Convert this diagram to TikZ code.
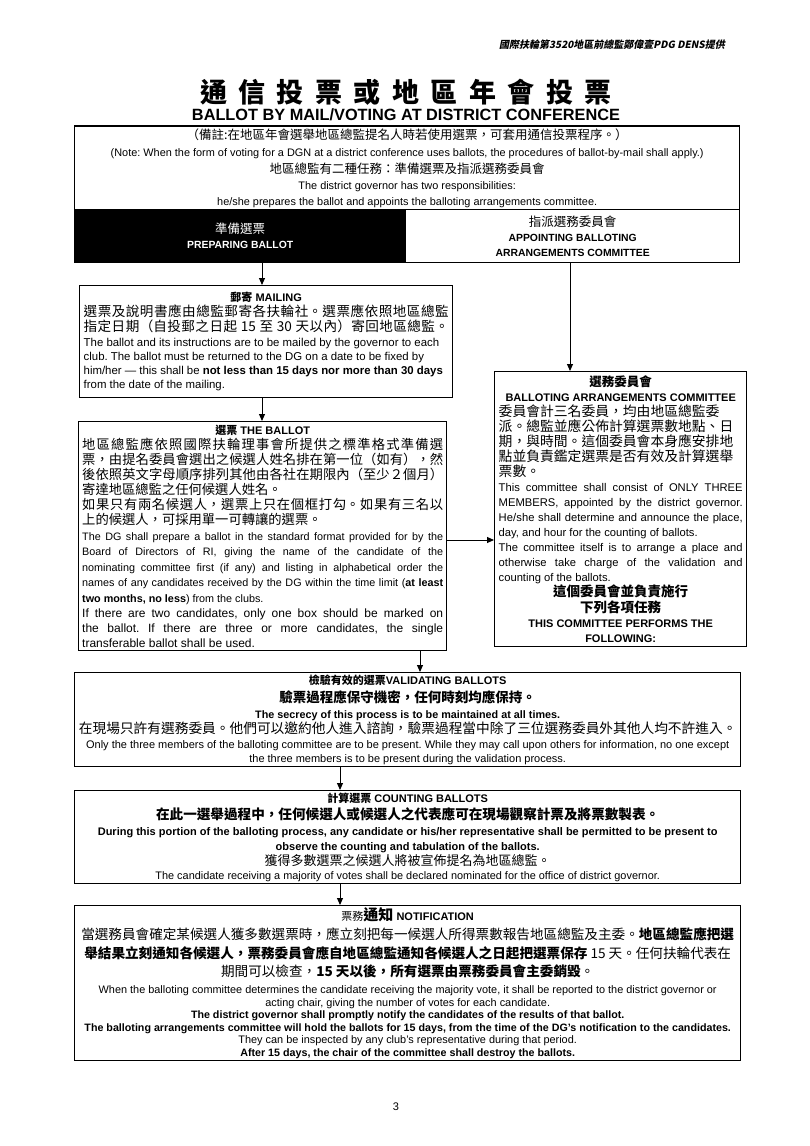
\documentclass[tikz,border=0pt]{standalone}
\usepackage{fontspec}
\setmainfont{Liberation Sans}
\newfontfamily\cjk{Noto Sans CJK TC}
\newfontfamily\cjksl{Noto Sans CJK TC}[FakeSlant=0.2]
\usetikzlibrary{arrows.meta}
\XeTeXlinebreaklocale "zh"
\XeTeXlinebreakskip=0pt plus 1pt
\parindent=0pt \parskip=0pt
\lineskiplimit=-30pt \lineskip=0pt
\frenchspacing
\newcommand{\fsz}[2]{\fontsize{#1}{#2}\selectfont}
\newcommand{\cln}[1]{{\centering\lineskiplimit=-30pt #1\par}}
\newcommand{\tsp}{\hspace{11.5pt}}
\tikzset{
  box/.style={draw, line width=1.4pt, inner sep=0pt, anchor=north west},
  txt/.style={inner sep=0pt, align=justify, anchor=center, execute at begin node=\frenchspacing},
  arr/.style={line width=1pt, -{Triangle[length=7pt,width=6pt]}},
}
\begin{document}
\begin{tikzpicture}[x=1pt,y=-1pt]
\fill[white] (0,0) rectangle (810,1146);
\path[use as bounding box] (0,0) rectangle (810,1146);

% header and titles
\node[font=\cjksl\bfseries\fsz{10}{12}] (hdr) at (612,45) {國際扶輪第3520地區前總監鄭偉壹PDG DENS提供};
\node[font=\cjk\bfseries\fsz{27}{30}] (titlezh) at (406,92) {通\tsp 信\tsp 投\tsp 票\tsp 或\tsp 地\tsp 區\tsp 年\tsp 會\tsp 投\tsp 票};
\node[font=\bfseries\fsz{16.3}{18}] (titleen) at (406,115) {BALLOT BY MAIL/VOTING AT DISTRICT CONFERENCE};

% boxes
\node[box, minimum width=665pt, minimum height=83pt] (note) at (74,126) {};
\draw[line width=2.4pt] (note.north west) -- (note.north east);
\node[box, fill=black, minimum width=331pt, minimum height=53pt] (prep) at (74,209) {};
\node[box, minimum width=334pt, minimum height=53pt] (apt) at (405,209) {};
\node[box, minimum width=373pt, minimum height=112pt] (mail) at (79,285) {};
\node[box, minimum width=368pt, minimum height=229pt] (ballot) at (78,421) {};
\node[box, minimum width=252pt, minimum height=275pt] (comm) at (494,371) {};
\node[box, minimum width=666pt, minimum height=94pt] (valid) at (74,672) {};
\node[box, minimum width=666pt, minimum height=93pt] (count) at (74,790) {};
\node[box, minimum width=666pt, minimum height=155pt] (notif) at (74,905) {};

% connectors
\coordinate (xa) at (262,0);
\coordinate (xb) at (570,0);
\coordinate (xc) at (420,0);
\coordinate (xd) at (340,0);
\coordinate (ya) at (0,540);
\draw[arr] (prep.south -| xa) -- (mail.north -| xa);
\draw[arr] (mail.south -| xa) -- (ballot.north -| xa);
\draw[arr] (apt.south -| xb) -- (comm.north -| xb);
\draw[arr] (ballot.east |- ya) -- (comm.west |- ya);
\draw[arr] (ballot.south -| xc) -- (valid.north -| xc);
\draw[arr] (valid.south -| xd) -- (count.north -| xd);
\draw[arr] (count.south -| xd) -- (notif.north -| xd);

% texts
\node[txt, text width=720pt] (noteT) at (note.center) {%
\cln{\cjk\fsz{12.5}{16}（備註:在地區年會選舉地區總監提名人時若使用選票，可套用通信投票程序。）}%
\cln{\fsz{10.9}{17}(Note: When the form of voting for a DGN at a district conference uses ballots, the procedures of ballot-by-mail shall apply.)}%
\cln{\cjk\fsz{12.5}{17}地區總監有二種任務：準備選票及指派選務委員會}%
\cln{\fsz{10.9}{16}The district governor has two responsibilities:}%
\cln{\fsz{10.9}{15.5}he/she prepares the ballot and appoints the balloting arrangements committee.}};

\node[txt, text width=320pt, text=white] (prepT) at (prep.center) {%
\cln{\cjk\fsz{12.5}{14}準備選票}%
\cln{\bfseries\fsz{10.4}{15}PREPARING BALLOT}};

\node[txt, text width=320pt] (aptT) at (apt.center) {%
\cln{\cjk\fsz{12.5}{14}指派選務委員會}%
\cln{\bfseries\fsz{10.4}{15}APPOINTING BALLOTING}%
\cln{\bfseries\fsz{10.4}{15.5}ARRANGEMENTS COMMITTEE}};

\node[txt, text width=365pt] (mailT) at (mail.center) {%
\cln{\bfseries\fsz{11}{14}{\cjk 郵寄} MAILING}%
{\cjk\fsz{13.6}{15}\parfillskip=0pt 選票及說明書應由總監郵寄各扶輪社。選票應依照地區總監\linebreak 指定日期（自投郵之日起 15 至 30 天以內）寄回地區總監。\par}%
{\fsz{11.4}{14.2}The ballot and its instructions are to be mailed by the governor to each\newline club. The ballot must be returned to the DG on a date to be fixed by\newline him/her — this shall be \textbf{not less than 15 days nor more than 30 days}\newline from the date of the mailing.\par}};

\node[txt, text width=361pt] (ballotT) at (ballot.center) {%
\cln{\bfseries\fsz{11}{14}{\cjk 選票} THE BALLOT}%
{\cjk\fsz{13.3}{15}地區總監應依照國際扶輪理事會所提供之標準格式準備選\linebreak 票，由提名委員會選出之候選人姓名排在第一位（如有），然\linebreak 後依照英文字母順序排列其他由各社在期限內（至少２個月）\linebreak 寄達地區總監之任何候選人姓名。\par}%
{\cjk\fsz{13.3}{15}如果只有兩名候選人，選票上只在個框打勾。如果有三名以\linebreak 上的候選人，可採用單一可轉讓的選票。\par}%
{\fsz{10.8}{15.5}The DG shall prepare a ballot in the standard format provided for by the\linebreak Board of Directors of RI, giving the name of the candidate of the\linebreak nominating committee first (if any) and listing in alphabetical order the\linebreak names of any candidates received by the DG within the time limit (\textbf{at least}\linebreak \textbf{two months, no less}) from the clubs.\par}%
{\fsz{12}{15}If there are two candidates, only one box should be marked on\linebreak the ballot. If there are three or more candidates, the single\linebreak transferable ballot shall be used.\par}};

\node[txt, text width=244pt] (commT) at (comm.center) {%
\cln{\cjk\bfseries\fsz{12.5}{14}選務委員會}%
\cln{\bfseries\fsz{11}{15}BALLOTING ARRANGEMENTS COMMITTEE}%
{\cjk\fsz{13.8}{15}委員會計三名委員，均由地區總監委\newline 派。總監並應公佈計算選票數地點、日\newline 期，與時間。這個委員會本身應安排地\newline 點並負責鑑定選票是否有效及計算選舉\newline 票數。\par}%
{\fsz{11.2}{15}This committee shall consist of ONLY THREE\linebreak MEMBERS, appointed by the district governor.\linebreak He/she shall determine and announce the place,\linebreak day, and hour for the counting of ballots.\par}%
{\fsz{11.2}{15}The committee itself is to arrange a place and\linebreak otherwise take charge of the validation and\linebreak counting of the ballots.\par}%
\cln{\cjk\bfseries\fsz{13.5}{15}這個委員會並負責施行}%
\cln{\cjk\bfseries\fsz{13.5}{15.5}下列各項任務}%
\cln{\bfseries\fsz{11}{15}THIS COMMITTEE PERFORMS THE}%
\cln{\bfseries\fsz{11}{15}FOLLOWING:}};

\node[txt, text width=720pt] (validT) at (valid.center) {%
\cln{\bfseries\fsz{11}{14}{\cjk 檢驗有效的選票}VALIDATING BALLOTS}%
\cln{\cjk\bfseries\fsz{13.5}{17.5}驗票過程應保守機密，任何時刻均應保持。}%
\cln{\bfseries\fsz{10.8}{16}The secrecy of this process is to be maintained at all times.}%
\cln{\cjk\fsz{13.7}{15.5}在現場只許有選務委員。他們可以邀約他人進入諮詢，驗票過程當中除了三位選務委員外其他人均不許進入。}%
\cln{\fsz{11}{15}Only the three members of the balloting committee are to be present. While they may call upon others for information, no one except}%
\cln{\fsz{11}{13.5}the three members is to be present during the validation process.}};

\node[txt, text width=720pt] (countT) at (count.center) {%
\cln{\bfseries\fsz{11}{14}{\cjk 計算選票} COUNTING BALLOTS}%
\cln{\cjk\bfseries\fsz{13.6}{17}在此一選舉過程中，任何候選人或候選人之代表應可在現場觀察計票及將票數製表。}%
\cln{\bfseries\fsz{11}{16}During this portion of the balloting process, any candidate or his/her representative shall be permitted to be present to}%
\cln{\bfseries\fsz{11}{15}observe the counting and tabulation of the ballots.}%
\cln{\cjk\fsz{13}{15}獲得多數選票之候選人將被宣佈提名為地區總監。}%
\cln{\fsz{10.9}{14}The candidate receiving a majority of votes shall be declared nominated for the office of district governor.}};

\node[txt, text width=720pt] (notifT) at (notif.center) {%
\cln{\fsz{11}{14}{\cjk 票務{\bfseries\fsz{15}{14}通知}} \bfseries NOTIFICATION}%
\cln{\cjk\fsz{13.6}{19}當選務員會確定某候選人獲多數選票時，應立刻把每一候選人所得票數報告地區總監及主委。\textbf{地區總監應把選}}%
\cln{\cjk\fsz{13.6}{18.5}\textbf{舉結果立刻通知各候選人，票務委員會應自地區總監通知各候選人之日起把選票保存} 15 天。任何扶輪代表在}%
\cln{\cjk\fsz{13.6}{18.5}期間可以檢查，\textbf{15 天以後，所有選票由票務委員會主委銷毀}。}%
\cln{\fsz{10.9}{17}When the balloting committee determines the candidate receiving the majority vote, it shall be reported to the district governor or}%
\cln{\fsz{10.9}{12.6}acting chair, giving the number of votes for each candidate.}%
\cln{\bfseries\fsz{10.7}{12.6}The district governor shall promptly notify the candidates of the results of that ballot.}%
\cln{\bfseries\fsz{10.7}{12.6}The balloting arrangements committee will hold the ballots for 15 days, from the time of the DG's notification to the candidates.}%
\cln{\fsz{10.9}{12.6}They can be inspected by any club's representative during that period.}%
\cln{\bfseries\fsz{10.7}{12.6}After 15 days, the chair of the committee shall destroy the ballots.}};

\node[font=\fsz{11}{13}] (pg) at (396,1107) {3};
\end{tikzpicture}
\end{document}
